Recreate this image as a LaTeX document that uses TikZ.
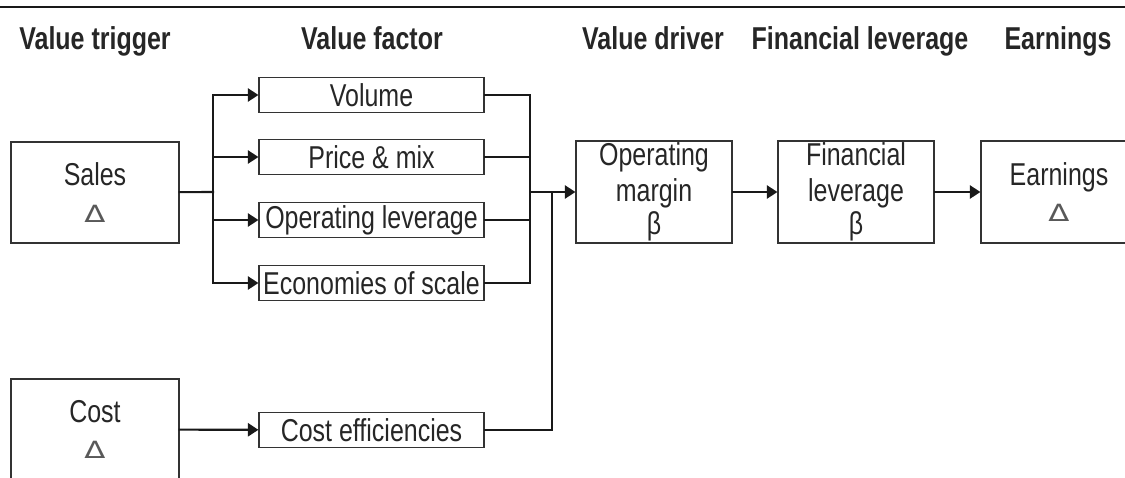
\documentclass[tikz,border=0pt]{standalone}
\usepackage{fontspec}
\setmainfont{Liberation Sans}[FakeStretch=0.79]
\newfontfamily\deltafont{DejaVu Sans}
\usetikzlibrary{arrows.meta}

\newcommand{\dlt}{{\deltafont\fontsize{13.5pt}{20pt}\selectfont\color{black!65}\scalebox{1.3}[1]{Δ}}}

\begin{document}
\begin{tikzpicture}[x=0.02cm, y=-0.02cm, >={Triangle[length=6pt,width=7.5pt]},
  every node/.style={font=\fontsize{18pt}{20pt}\selectfont, text=black!85},
  colhead/.style={font=\fontsize{18pt}{20pt}\selectfont\bfseries, anchor=base},
  flowbox/.style={draw=black!80, line width=0.7pt, align=center, inner sep=0pt},
  trigger/.style={flowbox, minimum width=3.36cm, minimum height=2.02cm},
  factor/.style={flowbox, minimum width=4.5cm, minimum height=0.69cm},
  driver/.style={flowbox, minimum width=3.12cm, minimum height=2.04cm},
  flowline/.style={draw=black!90, line width=1.2pt, line cap=rect},
  flowarrow/.style={flowline, ->}]

\useasboundingbox (0,0) rectangle (1125,477);
\clip (0,0) rectangle (1125,477);

% top rule
\draw[line width=1.7pt, black!90] (0,7) -- (1125,7);

\foreach \t/\x [count=\i] in {Value trigger/95, Value factor/372, Value driver/653, Financial leverage/860, Earnings/1058}
  \node[colhead] (head-\i) at (\x,49) {\t};

\node[trigger] (sales) at (95,192.5) {Sales\\[1pt]\dlt};
\node[trigger] (cost) at (95,429.5) {Cost\\[1pt]\dlt};

\foreach \n/\t/\y in {volume/Volume/95, price/Price \& mix/157, oplev/Operating leverage/220, scale/Economies of scale/283, costeff/Cost efficiencies/430}
  \node[factor] (\n) at (371.5,\y) {\t};

\node[driver] (margin) at (654,192) {Operating\\margin\\[-1pt]β};
\node[driver] (finlev) at (856,192) {Financial\\leverage\\[-1pt]β};
\node[driver] (earnings) at (1059,192) {Earnings\\[1pt]\dlt};

\coordinate (fork) at (213,192);
\coordinate (join) at (530,192);
\coordinate (merge) at (552,192);

\draw[flowline] (sales) -- (fork);
\draw[flowline] (fork |- volume) -- (fork |- scale);
\foreach \n in {volume,price,oplev,scale}
  \draw[flowarrow] (fork |- \n) -- (\n);

\foreach \n in {volume,price,oplev,scale}
  \draw[flowline] (\n) -- (join |- \n);
\draw[flowline] (join |- volume) -- (join |- scale);
\draw[flowarrow] (join) -- (margin);

\draw[flowarrow] (cost) -- (costeff);
\draw[flowline] (costeff) -| (merge);

\draw[flowarrow] (margin) -- (finlev);
\draw[flowarrow] (finlev) -- (earnings);

\end{tikzpicture}
\end{document}
